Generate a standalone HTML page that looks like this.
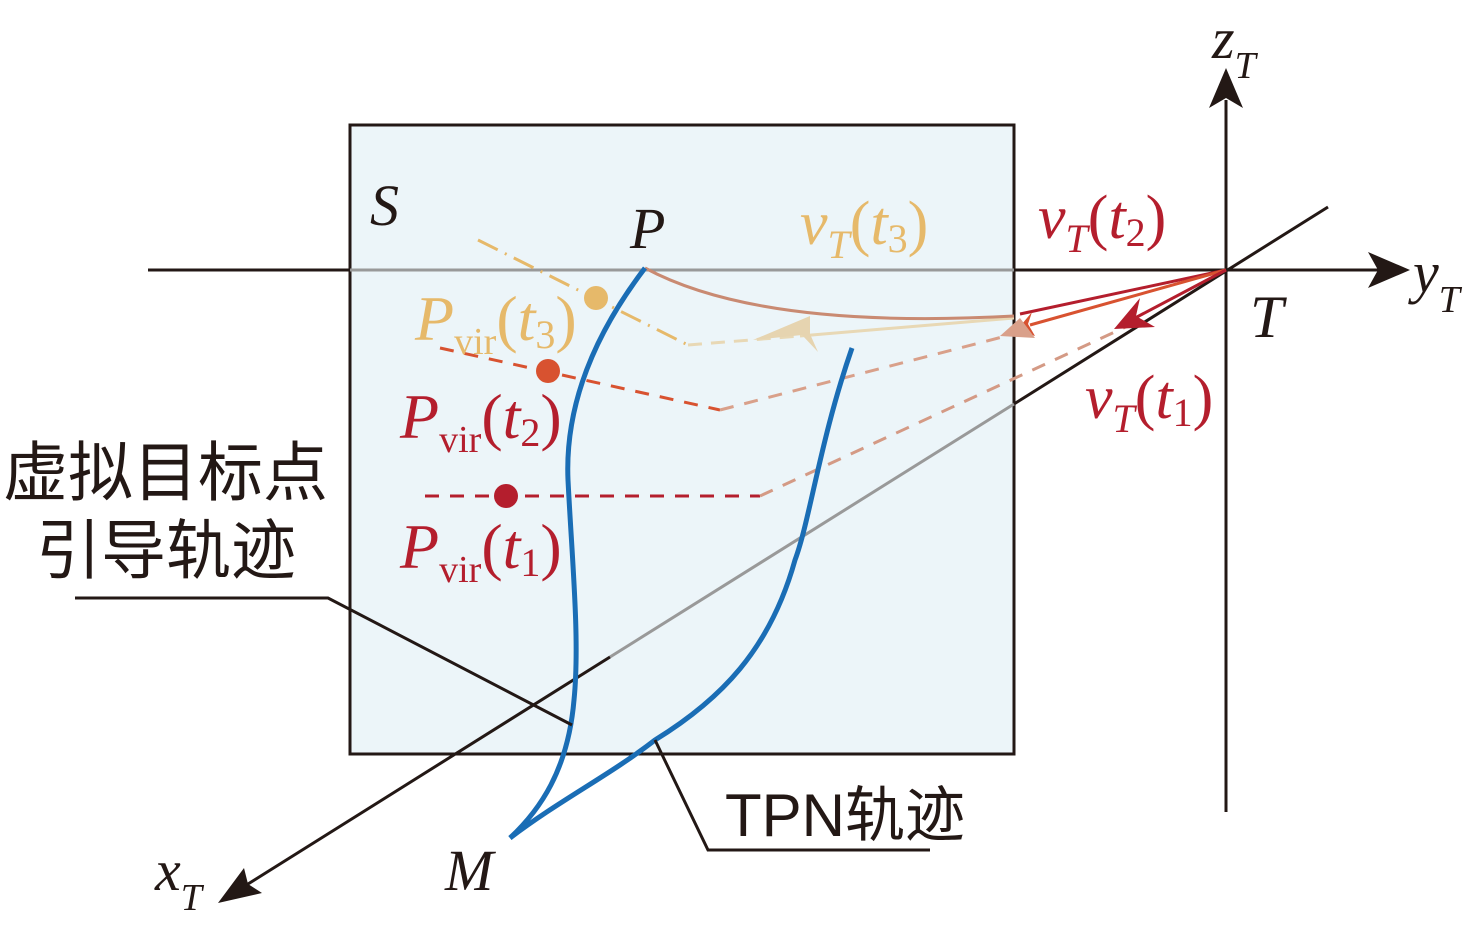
<!DOCTYPE html>
<html><head><meta charset="utf-8"><style>
body{margin:0;background:#fff}
svg{display:block}
text{font-family:"Liberation Serif",serif}
.cn{font-family:"Liberation Sans","Noto Sans CJK SC",sans-serif}
</style></head><body>
<svg width="1476" height="937" viewBox="0 0 1476 937">
<rect x="350" y="125" width="664" height="629" fill="#ecf5f9" stroke="#231815" stroke-width="3"/>
<line x1="148" y1="270" x2="350" y2="270" stroke="#231815" stroke-width="3"/>
<line x1="350" y1="270" x2="1014" y2="270" stroke="#999" stroke-width="3"/>
<line x1="1014" y1="270" x2="1380" y2="270" stroke="#231815" stroke-width="3"/>
<path d="M1410,270 L1368,252 L1378,270 L1368,288z" fill="#231815"/>
<line x1="1226" y1="812" x2="1226" y2="100" stroke="#231815" stroke-width="3"/>
<path d="M1226,68 L1209,108 L1226,98 L1243,108z" fill="#231815"/>
<line x1="1328" y1="207" x2="1014" y2="404" stroke="#231815" stroke-width="3"/>
<line x1="1014" y1="404" x2="610" y2="657" stroke="#999" stroke-width="3"/>
<line x1="610" y1="657" x2="240" y2="889" stroke="#231815" stroke-width="3"/>
<path d="M218,903 L262,893 L248,884 L244,868z" fill="#231815"/>
<line x1="425" y1="496" x2="760" y2="496" stroke="#b41e2d" stroke-width="3" stroke-dasharray="14,11"/>
<line x1="760" y1="496" x2="1145" y2="318" stroke="#d49a85" stroke-width="3" stroke-dasharray="14,11"/>
<line x1="440" y1="348" x2="720" y2="410" stroke="#d85230" stroke-width="3" stroke-dasharray="14,11"/>
<line x1="720" y1="410" x2="1010" y2="335" stroke="#d9a08a" stroke-width="3" stroke-dasharray="14,11"/>
<line x1="478" y1="240" x2="688" y2="345" stroke="#e6b96a" stroke-width="3" stroke-dasharray="22,8,2,8"/>
<line x1="688" y1="345" x2="800" y2="336" stroke="#e8d8b5" stroke-width="3" stroke-dasharray="14,9"/>
<line x1="800" y1="336" x2="1014" y2="318" stroke="#e8d8b5" stroke-width="3"/>
<path d="M802,335 L753,340 L810,316 L810,334 L818,352z" fill="#e6d4b0"/>
<path d="M645,268 Q760,330 1014,316" fill="none" stroke="#c98a72" stroke-width="3"/>
<line x1="1226" y1="270" x2="1020" y2="314" stroke="#b41e2d" stroke-width="3"/>
<line x1="1226" y1="270" x2="1030" y2="325" stroke="#d85230" stroke-width="3"/>
<path d="M1017,330 L1032,312 L1028,324 L1035,336z" fill="#d85230"/>
<path d="M1000,336 L1020,318 L1035,338z" fill="#d9a08a"/>
<line x1="1226" y1="270" x2="1135" y2="318" stroke="#b41e2d" stroke-width="3"/>
<path d="M1114,329 L1140,298 L1136,316 L1155,327z" fill="#b41e2d"/>
<path d="M645,268 C590,340 565,410 568,480 C572,560 580,640 574,700 C568,770 540,810 510,838" fill="none" stroke="#1a6db5" stroke-width="5"/>
<path d="M852,348 C820,440 810,520 795,560 C770,650 720,700 655,740 C610,775 560,800 510,838" fill="none" stroke="#1a6db5" stroke-width="5"/>
<circle cx="596" cy="298" r="12" fill="#e6b96a"/>
<circle cx="548" cy="371" r="12" fill="#d85230"/>
<circle cx="506" cy="496" r="12" fill="#b41e2d"/>
<polyline points="75,598 328,598 572,725" fill="none" stroke="#231815" stroke-width="3"/>
<polyline points="655,740 708,850 930,850" fill="none" stroke="#231815" stroke-width="3"/>
<text x="370" y="225" font-size="58" font-style="italic" fill="#231815">S</text>
<text x="630" y="248" font-size="58" font-style="italic" fill="#231815">P</text>
<text x="445" y="890" font-size="58" font-style="italic" fill="#231815">M</text>
<text x="1250" y="337" font-size="60" font-style="italic" fill="#231815">T</text>
<text x="1212" y="58" font-size="58" font-style="italic" fill="#231815">z<tspan font-size="38" dy="20">T</tspan></text>
<text x="1413" y="292" font-size="58" font-style="italic" fill="#231815">y<tspan font-size="38" dy="20">T</tspan></text>
<text x="155" y="890" font-size="58" font-style="italic" fill="#231815">x<tspan font-size="38" dy="20">T</tspan></text>
<text x="800" y="244" font-size="62" fill="#e6b96a"><tspan font-style="italic">v</tspan><tspan font-size="40" font-style="italic" dy="14">T</tspan><tspan dy="-14">(</tspan><tspan font-style="italic">t</tspan><tspan font-size="40" dy="8">3</tspan><tspan dy="-8">)</tspan></text>
<text x="1038" y="238" font-size="62" fill="#b41e2d"><tspan font-style="italic">v</tspan><tspan font-size="40" font-style="italic" dy="14">T</tspan><tspan dy="-14">(</tspan><tspan font-style="italic">t</tspan><tspan font-size="40" dy="8">2</tspan><tspan dy="-8">)</tspan></text>
<text x="1085" y="418" font-size="62" fill="#b41e2d"><tspan font-style="italic">v</tspan><tspan font-size="40" font-style="italic" dy="14">T</tspan><tspan dy="-14">(</tspan><tspan font-style="italic">t</tspan><tspan font-size="40" dy="8">1</tspan><tspan dy="-8">)</tspan></text>
<text x="415" y="340" font-size="64" fill="#e6b96a"><tspan font-style="italic">P</tspan><tspan font-size="38" dy="14">vir</tspan><tspan dy="-14">(</tspan><tspan font-style="italic">t</tspan><tspan font-size="40" dy="8">3</tspan><tspan dy="-8">)</tspan></text>
<text x="400" y="438" font-size="64" fill="#b41e2d"><tspan font-style="italic">P</tspan><tspan font-size="38" dy="14">vir</tspan><tspan dy="-14">(</tspan><tspan font-style="italic">t</tspan><tspan font-size="40" dy="8">2</tspan><tspan dy="-8">)</tspan></text>
<text x="400" y="568" font-size="64" fill="#b41e2d"><tspan font-style="italic">P</tspan><tspan font-size="38" dy="14">vir</tspan><tspan dy="-14">(</tspan><tspan font-style="italic">t</tspan><tspan font-size="40" dy="8">1</tspan><tspan dy="-8">)</tspan></text>
<text x="3" y="495" font-size="65" class="cn" fill="#231815">虚拟目标点</text>
<text x="36" y="573" font-size="65" class="cn" fill="#231815">引导轨迹</text>
<text x="725" y="836" font-size="60" class="cn" fill="#231815">TPN轨迹</text>
</svg>
</body></html>
